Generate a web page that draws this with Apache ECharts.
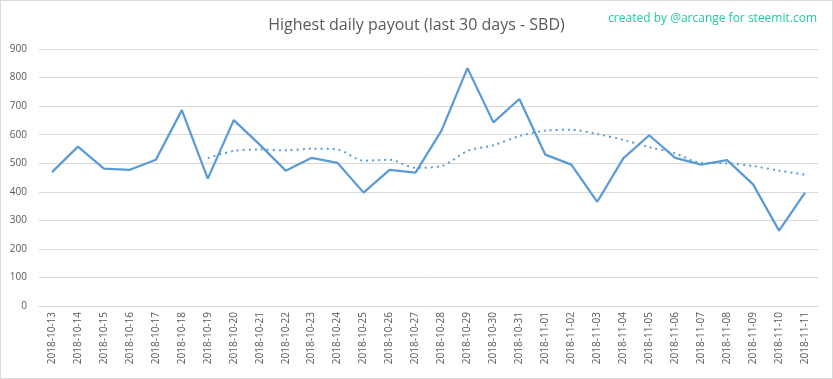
<!DOCTYPE html>
<html>
<head>
<meta charset="utf-8">
<script src="https://cdn.jsdelivr.net/npm/echarts@6/dist/echarts.min.js"></script>
<style>
html,body{margin:0;padding:0;background:#fff;}
#wrap{position:absolute;left:0;top:0;width:831px;height:377px;border:1px solid #d9d9d9;}
#chart{width:831px;height:377px;}
</style>
</head>
<body>
<div id="wrap"><div id="chart"></div></div>
<script>
const categories = ["2018-10-13","2018-10-14","2018-10-15","2018-10-16","2018-10-17","2018-10-18","2018-10-19","2018-10-20","2018-10-21","2018-10-22","2018-10-23","2018-10-24","2018-10-25","2018-10-26","2018-10-27","2018-10-28","2018-10-29","2018-10-30","2018-10-31","2018-11-01","2018-11-02","2018-11-03","2018-11-04","2018-11-05","2018-11-06","2018-11-07","2018-11-08","2018-11-09","2018-11-10","2018-11-11"];
const payout = [469,558,481,477,512,686,446,651,565,474,519,501,397,477,467,614,833,643,725,530,495,365,517,598,519,495,511,426,264,397];
const trend = [null,null,null,null,null,null,518,543,548,545,551,548,509,512,484,490,543,563,595,614,617,602,582,556,535,501,500,490,474,460];
const yTicks = [0,100,200,300,400,500,600,700,800,900];

const chart = echarts.init(document.getElementById('chart'), null, {renderer:'canvas'});
chart.setOption({
  animation:false,
  backgroundColor:'#fff',
  title:[{
    text:'Highest daily payout (last 30 days - SBD)',
    left:'center', top:11,
    textStyle:{fontFamily:'Open Sans', fontWeight:'normal', fontSize:16, color:'#595959'}
  },{
    text:'created by @arcange for steemit.com',
    right:10, top:7,
    textStyle:{fontFamily:'Open Sans', fontWeight:'normal', fontSize:12, color:'#22c9a3'}
  }],
  grid:{left:38, right:14, top:48, bottom:72, containLabel:false},
  xAxis:{
    type:'category', data:categories, boundaryGap:true,
    axisLine:{show:true, lineStyle:{color:'#d9d9d9', width:1}},
    axisTick:{show:false},
    axisLabel:{rotate:90, interval:0, margin:6, fontFamily:'Open Sans', fontSize:10, color:'#595959'}
  },
  yAxis:{
    type:'value', min:yTicks[0], max:yTicks[yTicks.length-1], interval:100,
    axisLine:{show:false}, axisTick:{show:false},
    splitLine:{lineStyle:{color:'#d9d9d9', width:1}},
    axisLabel:{fontFamily:'Open Sans', fontSize:10, color:'#595959', margin:12}
  },
  series:[{
    type:'line', data:payout, symbol:'none',
    lineStyle:{color:'#5b9bd5', width:2.25}
  },{
    type:'line', data:trend, symbol:'none', smooth:0.3,
    lineStyle:{color:'#5b9bd5', width:2, type:[2,4]}
  }]
});
</script>
</body>
</html>
